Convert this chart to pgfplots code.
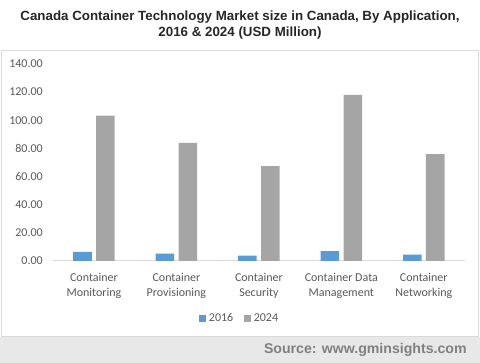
\documentclass[border=0pt]{standalone}
\usepackage{fontspec}
\setmainfont{Carlito}
\newfontfamily\arial{Liberation Sans}
\usepackage{pgfplots}
\pgfplotsset{compat=1.18}
\definecolor{blu}{HTML}{5B9BD5}
\definecolor{gry}{HTML}{A5A5A5}
\definecolor{txt}{HTML}{595959}
\definecolor{frm}{HTML}{D9D9D9}
\definecolor{band}{HTML}{E8E8E8}
\definecolor{src}{HTML}{808080}
\definecolor{ttl}{HTML}{262626}
\begin{document}
\begin{tikzpicture}[x=1pt,y=1pt]
\fill[band] (0,0) rectangle (360,272.25);
\fill[white] (0,19.5) rectangle (360,272.25);
\draw[frm, line width=0.75pt] (0.75,19.5) rectangle (359.25,234.4);
\node[align=center, font={\arial\bfseries\fontsize{10}{12}\selectfont}, text=ttl] at (180,253.5) {Canada Container Technology Market size in Canada, By Application,\\2016 \& 2024 (USD Million)};
\node[anchor=east, font={\arial\bfseries\fontsize{10.6}{12}\selectfont}, text=src] at (353.5,10.2) {Source: www.gminsights.com};
\begin{axis}[
  at={(39.56pt,76.5pt)}, anchor=south west,
  scale only axis, width=309.2pt, height=147.75pt,
  ymin=0, ymax=140, xmin=-0.5, xmax=4.5,
  ytick={0,20,...,140},
  xtick={0,1,2,3,4},
  xticklabels={Container\\Monitoring, Container\\Provisioning, Container\\Security, Container Data\\Management, Container\\Networking},
  xticklabel style={align=center, font=\fontsize{9}{11}\selectfont, text=txt, yshift=-6pt},
  yticklabel style={font=\fontsize{9}{10}\selectfont, text=txt, xshift=-4pt},
  /pgf/number format/.cd, fixed, fixed zerofill, precision=2, assume math mode=true, /pgfplots/.cd,
  axis x line*=bottom, axis y line*=left,
  x axis line style={-, draw=frm, line width=0.75pt},
  y axis line style={draw=none},
  major tick length=0pt,
  ybar, bar width=13.9pt,
  legend style={at={(0.454,-0.292)}, anchor=center, draw=none, fill=none, legend columns=2, font=\fontsize{9}{10}\selectfont, text=txt, /tikz/every even column/.append style={column sep=6pt}},
  legend image code/.code={\fill[#1] (0pt,-2.7pt) rectangle (5.4pt,2.7pt);},
]
\addplot[fill=blu, draw=none, bar shift=-8.6pt] coordinates {(0,6.4) (1,5.2) (2,3.8) (3,7.1) (4,4.5)};
\addplot[fill=gry, draw=none, bar shift=8.6pt] coordinates {(0,103.3) (1,83.9) (2,67.5) (3,118.0) (4,76.0)};
\legend{2016,2024}
\end{axis}
\end{tikzpicture}
\end{document}
